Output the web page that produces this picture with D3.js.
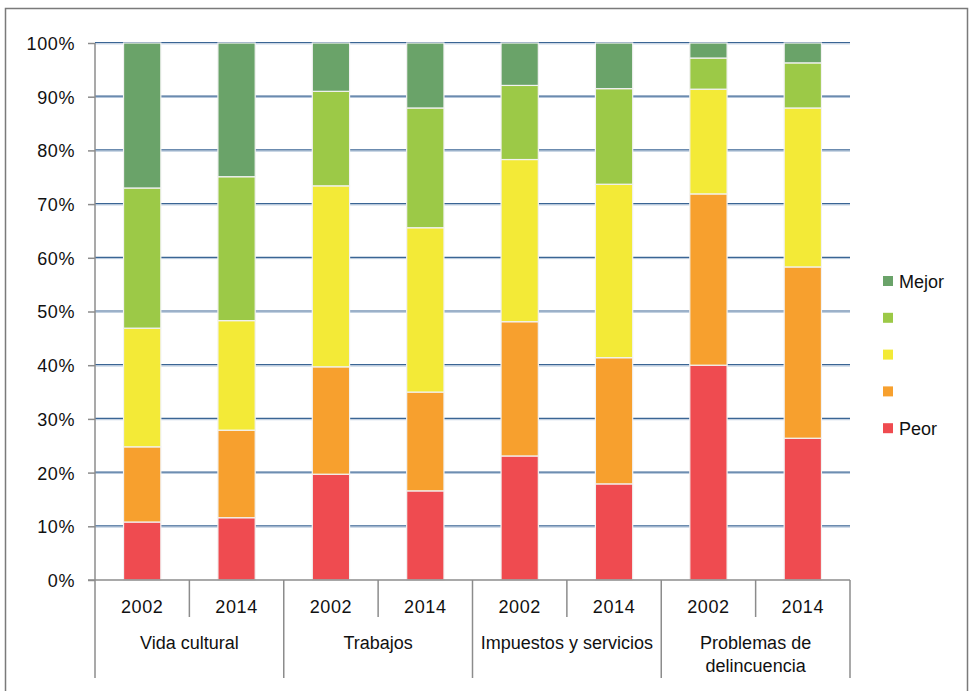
<!DOCTYPE html>
<html>
<head>
<meta charset="utf-8">
<script src="https://cdn.jsdelivr.net/npm/d3@7"></script>
<style>
  html, body { margin: 0; padding: 0; background: #fff; }
  svg { display: block; font-family: "Liberation Sans", Arial, Helvetica, sans-serif; }
</style>
</head>
<body>
<svg id="chart" width="970" height="691"></svg>
<script>
// Categories and the two survey years shown under each one
const categories = ["Vida cultural", "Trabajos", "Impuestos y servicios", "Problemas de delincuencia"];
const categoryLines = [["Vida cultural"], ["Trabajos"], ["Impuestos y servicios"], ["Problemas de", "delincuencia"]];
const years = ["2002", "2014"];

// Share of answers (%) per level, one value per bar: VC02, VC14, T02, T14, IS02, IS14, PD02, PD14
const peor   = [10.8, 11.6, 19.7, 16.6, 23.1, 17.9, 40.0, 26.4];
const nivel2 = [14.0, 16.3, 20.0, 18.4, 25.0, 23.5, 31.9, 31.9];
const nivel3 = [22.1, 20.4, 33.7, 30.6, 30.2, 32.3, 19.5, 29.6];
const nivel4 = [26.1, 26.8, 17.6, 22.3, 13.8, 17.8, 5.8, 8.4];
const mejor  = [27.0, 24.9, 9.0, 12.1, 7.9, 8.5, 2.8, 3.7];

const seriesKeys   = ["peor", "nivel2", "nivel3", "nivel4", "mejor"];
const seriesLabels = ["Peor", "", "", "", "Mejor"];
const seriesColors = ["#ef4b50", "#f7a02e", "#f3ea37", "#9cc947", "#6aa369"];

const yTicks = [0, 10, 20, 30, 40, 50, 60, 70, 80, 90, 100];

// Build a table of rows, one per bar
const bars = [];
categories.forEach((c, ci) => {
  years.forEach((yr, yi) => {
    const i = ci * years.length + yi;
    bars.push({ id: i, category: c, year: yr,
      peor: peor[i], nivel2: nivel2[i], nivel3: nivel3[i], nivel4: nivel4[i], mejor: mejor[i] });
  });
});

const svg = d3.select("#chart");
const plotLeft = 95, plotRight = 850, plotTop = 43, plotBottom = 580;

// Outer frame (top, left, right edges)
svg.append("path")
  .attr("d", "M5.5,691 V8.5 H967.5 V691")
  .attr("fill", "none").attr("stroke", "#7a7a7a").attr("stroke-width", 1.5);

const x = d3.scaleBand()
  .domain(bars.map(d => d.id))
  .range([plotLeft, plotRight])
  .paddingInner(0.605)
  .paddingOuter(0.3025);

const y = d3.scaleLinear().domain([0, 100]).range([plotBottom, plotTop]);

// Horizontal gridlines
const grid = svg.append("g");
grid.selectAll("line.g1")
  .data(yTicks.filter(t => t > 0))
  .join("line")
  .attr("class", "g1")
  .attr("x1", plotLeft).attr("x2", plotRight)
  .attr("y1", d => y(d) - 0.5).attr("y2", d => y(d) - 0.5)
  .attr("stroke", "#3a6594").attr("stroke-width", 1.2);
grid.selectAll("line.g2")
  .data(yTicks.filter(t => t > 0))
  .join("line")
  .attr("class", "g2")
  .attr("x1", plotLeft).attr("x2", plotRight)
  .attr("y1", d => y(d) + 0.8).attr("y2", d => y(d) + 0.8)
  .attr("stroke", "#9fb6d0").attr("stroke-width", 0.8);

// Stacked bars
const stack = d3.stack().keys(seriesKeys);
const stacked = stack(bars);

svg.append("g").selectAll("g")
  .data(stacked)
  .join("g")
  .attr("fill", (d, i) => seriesColors[i])
  .selectAll("rect")
  .data(d => d)
  .join("rect")
  .attr("x", d => x(d.data.id))
  .attr("width", x.bandwidth())
  .attr("y", d => y(d[1]))
  .attr("height", d => y(d[0]) - y(d[1]))
  .attr("stroke", "#f2f2f2")
  .attr("stroke-width", 1.2);

// Left axis with percentage labels
const yAxis = d3.axisLeft(y).tickValues(yTicks).tickSize(7).tickFormat(d => d + "%");
const ya = svg.append("g").attr("transform", `translate(${plotLeft},0)`).call(yAxis);
ya.select(".domain").remove();
ya.selectAll(".tick line").attr("stroke", "#8c8c8c").attr("stroke-width", 1.5);
ya.selectAll(".tick text")
  .attr("x", -20).attr("dy", "0.36em")
  .attr("font-size", 18).attr("fill", "#111")
  .attr("font-family", "Liberation Sans, Arial, sans-serif")
  .style("letter-spacing", "0.6px");

// Vertical axis line, continued down as the first category separator
svg.append("line")
  .attr("x1", plotLeft).attr("x2", plotLeft).attr("y1", plotTop).attr("y2", 678)
  .attr("stroke", "#8c8c8c").attr("stroke-width", 1.5);
// Baseline
svg.append("line")
  .attr("x1", plotLeft - 7).attr("x2", plotRight).attr("y1", plotBottom).attr("y2", plotBottom)
  .attr("stroke", "#8c8c8c").attr("stroke-width", 1.5);

// Multi-level category axis
const step = x.step();
const catAxis = svg.append("g");
const nYears = years.length;
categories.forEach((c, ci) => {
  const x0 = plotLeft + ci * nYears * step;
  const x1 = x0 + nYears * step;
  // separator at the right edge of the group
  catAxis.append("line")
    .attr("x1", x1).attr("x2", x1).attr("y1", plotBottom).attr("y2", 678)
    .attr("stroke", "#8c8c8c").attr("stroke-width", 1.5);
  // separators between years
  for (let k = 1; k < nYears; k++) {
    const xs = x0 + k * step;
    catAxis.append("line")
      .attr("x1", xs).attr("x2", xs).attr("y1", plotBottom).attr("y2", 617)
      .attr("stroke", "#8c8c8c").attr("stroke-width", 1.5);
  }
  const lines = categoryLines[ci];
  const t = catAxis.append("text")
    .attr("text-anchor", "middle")
    .attr("font-size", 18).attr("fill", "#111");
  lines.forEach((ln, li) => {
    t.append("tspan").attr("x", (x0 + x1) / 2).attr("y", 649 + li * 23).text(ln);
  });
});

catAxis.selectAll("text.year")
  .data(bars)
  .join("text")
  .attr("class", "year")
  .attr("x", d => x(d.id) + x.bandwidth() / 2)
  .attr("y", 613)
  .attr("text-anchor", "middle")
  .attr("font-size", 18).attr("fill", "#111")
  .style("letter-spacing", "0.6px")
  .text(d => d.year);

// Legend (top entry is the best level)
const legend = svg.append("g");
const legendOrder = d3.range(seriesKeys.length).reverse();
legendOrder.forEach((si, k) => {
  const cy = 281 + k * 36.8;
  legend.append("rect")
    .attr("x", 883).attr("y", cy - 5).attr("width", 10).attr("height", 10)
    .attr("fill", seriesColors[si]);
  legend.append("text")
    .attr("x", 899).attr("y", cy + 6.5)
    .attr("font-size", 18).attr("fill", "#111")
    .text(seriesLabels[si]);
});
</script>
</body>
</html>
